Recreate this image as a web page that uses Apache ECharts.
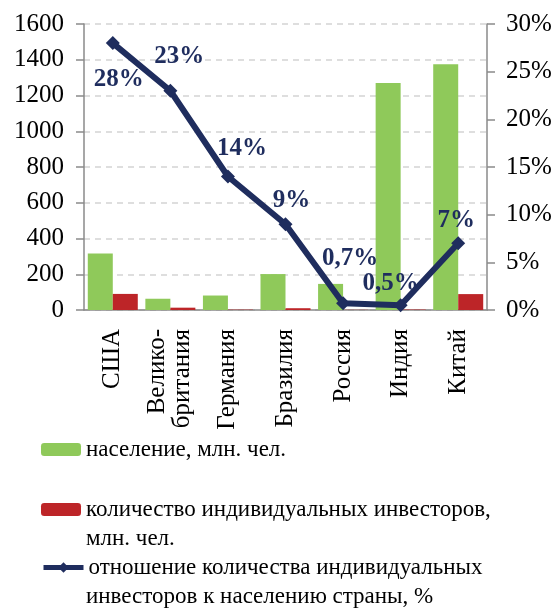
<!DOCTYPE html>
<html style="height: 100%;width: 100%">
<head>
<meta charset="utf-8">
<script src="https://cdn.jsdelivr.net/npm/echarts@6/dist/echarts.min.js"></script>
<style>
    html, body { margin: 0; padding: 0; background: #fff; }
    #container { width: 557px; height: 610px; }
</style>
</head>
<body>
<div id="container"></div>
<script type="text/javascript">
// data
var categories = ['США', 'Велико-\nбритания', 'Германия', 'Бразилия', 'Россия', 'Индия', 'Китай'];
var population = [316, 63, 81, 201, 146, 1270, 1375];      // млн. чел.
var investors = [90, 13, 2, 10, 1, 2.5, 89];               // млн. чел.
var investorShare = [28, 23, 14, 9, 0.7, 0.5, 7];          // %
var leftTicks = [0, 1600, 200];
var rightTicks = [0, 30, 5];

var nameGreen = 'население, млн. чел.';
var nameRed = 'количество индивидуальных инвесторов,\nмлн. чел.';
var nameLine = 'отношение количества индивидуальных\nинвесторов к населению страны, %';

// where each percent label sits relative to its point
var labelOffsets = [[6, 36], [9, -34], [14, -28], [6, -24], [7, -45], [-10, -22], [-2, -23]];

var serif = '"Liberation Serif", "DejaVu Serif", serif';
var navy = '#1f2d5e';

var myChart = echarts.init(document.getElementById('container'));

var lineData = [];
for (var i = 0; i < investorShare.length; i++) {
    lineData.push({
        value: investorShare[i],
        label: { offset: labelOffsets[i] }
    });
}

// legend shows the first line of a name next to the icon,
// the second line is put under it as plain text
function legendBox(name, top) {
    return {
        data: [name],
        left: 36,
        top: top,
        itemWidth: 40,
        itemHeight: 13,
        selectedMode: false,
        lineStyle: { width: 5 },
        formatter: function (n) { return n.split('\n')[0]; },
        textStyle: { fontFamily: serif, fontSize: 23, color: '#000' }
    };
}
function secondLine(name, y) {
    return {
        type: 'text',
        x: 86,
        y: y,
        style: {
            text: name.split('\n')[1],
            fontFamily: serif,
            fontSize: 23,
            fill: '#000',
            verticalAlign: 'middle'
        }
    };
}

var option = {
    animation: false,
    grid: { left: 84, right: 70, top: 24, bottom: 300 },
    legend: [
        legendBox(nameGreen, 433),
        legendBox(nameRed, 493),
        legendBox(nameLine, 551)
    ],
    graphic: [
        secondLine(nameRed, 539),
        secondLine(nameLine, 597)
    ],
    xAxis: {
        type: 'category',
        data: categories,
        axisLine: { lineStyle: { color: '#8a8a8a', width: 1.5 } },
        axisTick: { length: 7, lineStyle: { color: '#8a8a8a', width: 1.5 } },
        axisLabel: {
            rotate: 90,
            margin: 19,
            interval: 0,
            fontFamily: serif,
            fontSize: 25,
            lineHeight: 25,
            color: '#000'
        }
    },
    yAxis: [{
        type: 'value',
        min: leftTicks[0],
        max: leftTicks[1],
        interval: leftTicks[2],
        axisLine: { show: true, lineStyle: { color: '#8a8a8a', width: 1.5 } },
        axisTick: { show: true, length: 8, lineStyle: { color: '#8a8a8a', width: 1.5 } },
        splitLine: { lineStyle: { color: '#d4d4d4', type: [6, 5], width: 1.5 } },
        axisLabel: {
            margin: 20, fontFamily: serif, fontSize: 25, color: '#000',
            formatter: function (v) { return String(v); }
        }
    }, {
        type: 'value',
        min: rightTicks[0],
        max: rightTicks[1],
        interval: rightTicks[2],
        position: 'right',
        axisLine: { show: true, lineStyle: { color: '#8a8a8a', width: 1.5 } },
        axisTick: { show: true, length: 8, lineStyle: { color: '#8a8a8a', width: 1.5 } },
        splitLine: { show: false },
        axisLabel: { margin: 19, fontFamily: serif, fontSize: 25, color: '#000', formatter: '{value}%' }
    }],
    series: [{
        name: nameGreen,
        type: 'bar',
        data: population,
        barWidth: 25,
        barGap: '0%',
        itemStyle: { color: '#8fc95a' },
        legendIcon: 'rect'
    }, {
        name: nameRed,
        type: 'bar',
        data: investors,
        barWidth: 25,
        itemStyle: { color: '#bd2528' },
        legendIcon: 'rect'
    }, {
        name: nameLine,
        type: 'line',
        yAxisIndex: 1,
        data: lineData,
        symbol: 'diamond',
        symbolSize: 14,
        z: 5,
        lineStyle: { color: navy, width: 6 },
        itemStyle: { color: navy },
        label: {
            show: true,
            position: 'inside',
            fontFamily: serif,
            fontWeight: 'bold',
            fontSize: 25,
            color: navy,
            formatter: function (p) { return String(p.value).replace('.', ',') + '%'; }
        }
    }]
};

myChart.setOption(option);
</script>
</body>
</html>
